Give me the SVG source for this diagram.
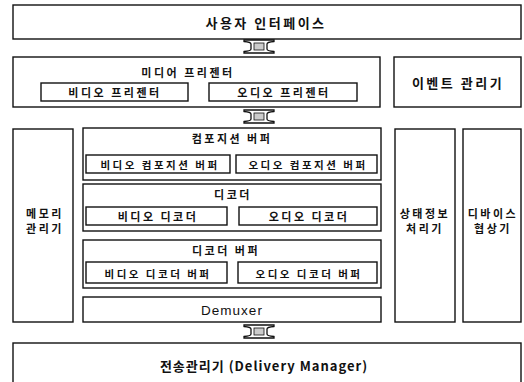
<svg xmlns="http://www.w3.org/2000/svg" width="524" height="382" viewBox="0 0 524 382">
<defs>
<style>
.b{fill:#fff;stroke:#111;stroke-width:1.4}
.t{font-family:"Noto Sans CJK KR","Liberation Sans",sans-serif;font-weight:bold;fill:#111;text-anchor:middle;dominant-baseline:central}
.l{font-size:13px;letter-spacing:2.5px}
.m{font-size:11px;letter-spacing:2.5px}
.s{font-size:10.5px;letter-spacing:2.5px}
.arr{fill:#fff;stroke:#111;stroke-width:1.3}
.core{fill:#ccc;stroke:#111;stroke-width:0.8}
</style>
<g id="dbl">
<path class="arr" d="M-15,0 H15 V1.5 Q8,2 8,4 V9 Q8,11 15,11.5 V13 H-15 V11.5 Q-8,11 -8,9 V4 Q-8,2 -15,1.5 Z"/>
<rect class="core" x="-5" y="3" width="10" height="7"/>
</g>
</defs>

<g id="connectors">
<use href="#dbl" x="259" y="40"/>
<use href="#dbl" x="259" y="110"/>
<use href="#dbl" x="259" y="325"/>
</g>

<g id="user-interface">
<rect class="b" x="13" y="5" width="508" height="34"/>
<text class="t l" x="266" y="22">사용자 인터페이스</text>
</g>

<g id="media-presenter">
<rect class="b" x="13" y="57" width="367" height="50"/>
<text class="t m" x="188" y="72">미디어 프리젠터</text>
<g id="video-presenter">
<rect class="b" x="41" y="83" width="147" height="18"/>
<text class="t m" x="115" y="92">비디오 프리젠터</text>
</g>
<g id="audio-presenter">
<rect class="b" x="209" y="83" width="148" height="18"/>
<text class="t m" x="284" y="92">오디오 프리젠터</text>
</g>
</g>

<g id="event-manager">
<rect class="b" x="394" y="57" width="127" height="50"/>
<text class="t l" x="458" y="82">이벤트 관리기</text>
</g>

<g id="memory-manager">
<rect class="b" x="13" y="129" width="60" height="193"/>
<text class="t m" x="45" y="213">메모리</text>
<text class="t m" x="45" y="228">관리기</text>
</g>

<g id="composition-buffer">
<rect class="b" x="83" y="128" width="298" height="52"/>
<text class="t m" x="232" y="138">컴포지션 버퍼</text>
<g id="video-composition-buffer">
<rect class="b" x="86" y="155" width="144" height="18"/>
<text class="t s" x="160" y="164">비디오 컴포지션 버퍼</text>
</g>
<g id="audio-composition-buffer">
<rect class="b" x="236" y="155" width="141" height="18"/>
<text class="t s" x="308" y="164">오디오 컴포지션 버퍼</text>
</g>
</g>

<g id="decoder">
<rect class="b" x="83" y="184" width="298" height="47"/>
<text class="t m" x="233" y="194">디코더</text>
<g id="video-decoder">
<rect class="b" x="86" y="207" width="141" height="18"/>
<text class="t m" x="158" y="216">비디오 디코더</text>
</g>
<g id="audio-decoder">
<rect class="b" x="239" y="207" width="138" height="18"/>
<text class="t m" x="309" y="216">오디오 디코더</text>
</g>
</g>

<g id="decoder-buffer">
<rect class="b" x="83" y="240" width="298" height="48"/>
<text class="t m" x="226" y="250">디코더 버퍼</text>
<g id="video-decoder-buffer">
<rect class="b" x="86" y="262" width="141" height="21"/>
<text class="t s" x="158" y="273">비디오 디코더 버퍼</text>
</g>
<g id="audio-decoder-buffer">
<rect class="b" x="238" y="262" width="139" height="21"/>
<text class="t s" x="309" y="273">오디오 디코더 버퍼</text>
</g>
</g>

<g id="demuxer">
<rect class="b" x="83" y="297" width="298" height="25"/>
<text class="t" x="232" y="310" style="font-family:'Liberation Sans',sans-serif;font-weight:normal;font-size:13.5px;letter-spacing:1px">Demuxer</text>
</g>

<g id="state-info-processor">
<rect class="b" x="395" y="129" width="60" height="193"/>
<text class="t m" x="425" y="213">상태정보</text>
<text class="t m" x="425" y="228">처리기</text>
</g>

<g id="device-negotiator">
<rect class="b" x="463" y="129" width="58" height="193"/>
<text class="t m" x="493" y="213">디바이스</text>
<text class="t m" x="493" y="228">협상기</text>
</g>

<g id="delivery-manager">
<rect class="b" x="13" y="343" width="508" height="45"/>
<text class="t" x="264" y="365" style="font-size:13px;letter-spacing:1px">전송관리기 (Delivery Manager)</text>
</g>
</svg>
